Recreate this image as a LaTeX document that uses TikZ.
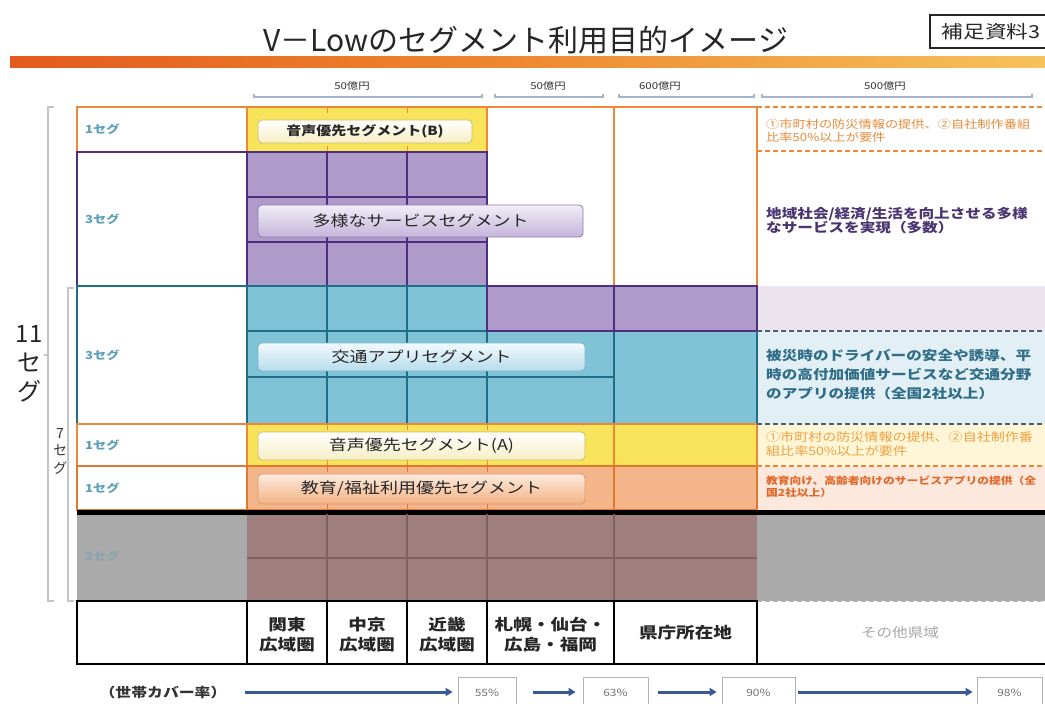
\documentclass[tikz,border=0pt]{standalone}
\usepackage{fontspec}
\setmainfont{Noto Sans CJK JP}[FakeStretch=1.2]
\newfontfamily\plainjp{Noto Sans CJK JP}
\usetikzlibrary{arrows.meta}
\definecolor{orgB}{HTML}{EE8838}
\definecolor{orgD}{HTML}{E2782C}
\definecolor{purF}{HTML}{AE9BC9}
\definecolor{purL}{HTML}{4E2E7E}
\definecolor{tealF}{HTML}{80C2D6}
\definecolor{tealL}{HTML}{1F6E86}
\definecolor{yelF}{HTML}{F8E45A}
\definecolor{peachF}{HTML}{F5B58A}
\definecolor{mauveF}{HTML}{9E7E7E}
\definecolor{mauveL}{HTML}{82605F}
\definecolor{grayF}{HTML}{AAAAAA}
\definecolor{segT}{HTML}{5C9FB8}
\definecolor{arrB}{HTML}{3A5893}
\definecolor{brk}{HTML}{A3B5CA}
\definecolor{txtO}{HTML}{E98A3A}
\definecolor{txtY}{HTML}{EFA040}
\definecolor{txtP}{HTML}{4A3570}
\definecolor{txtT}{HTML}{2F6D88}
\definecolor{txtR}{HTML}{E0682A}
\definecolor{rLav}{HTML}{EBE4EF}
\definecolor{rBlu}{HTML}{E2F0F6}
\definecolor{rYel}{HTML}{FEF6D6}
\definecolor{rPea}{HTML}{FCE8DC}
\definecolor{dashT}{HTML}{45606E}
\definecolor{leftBr}{HTML}{C4C4C4}
\definecolor{bYelD}{HTML}{CDBB70}
\definecolor{bYelB}{HTML}{F6EFC4}
\definecolor{bPurD}{HTML}{8E7AAE}
\definecolor{bPurT}{HTML}{F2EEF8}
\definecolor{bPurB}{HTML}{C4B4DA}
\definecolor{bTeaD}{HTML}{7AB6CC}
\definecolor{bTeaT}{HTML}{F3FAFD}
\definecolor{bTeaB}{HTML}{B6DCEC}
\definecolor{bPeaD}{HTML}{DA9A70}
\definecolor{bPeaT}{HTML}{FDEBDD}
\definecolor{bPeaB}{HTML}{F3B285}
\definecolor{barL}{HTML}{E45A1E}
\definecolor{barM}{HTML}{EE8A30}
\definecolor{barR}{HTML}{F6C25A}
\newcommand\fsz[2]{\fontsize{#1}{#2}\selectfont}
\tikzset{
  seglab/.style={anchor=west, text=segT, font=\fsz{11}{13}\bfseries, inner sep=0pt},
  btnbase/.style={rounded corners=4pt, line width=0.8pt, inner sep=0pt, align=center, text=black!85},
  rtxt/.style={anchor=north west, align=left, inner sep=0pt},
  toplab/.style={font=\fsz{9.5}{11}, text=black!80, inner sep=0pt},
  brkline/.style={draw=brk, line width=1.3pt},
  botlab/.style={font=\fsz{15.5}{20}\bfseries, align=center, inner sep=0pt, text=black!85},
  pbox/.style={draw=black!30, line width=0.8pt, minimum height=32pt, inner sep=0pt, font=\fsz{10}{12}, text=black!55},
  arrw/.style={draw=arrB, line width=3pt, -{Triangle[length=7pt,width=8pt]}},
  rdash/.style={line width=1.5pt, dash pattern=on 5pt off 3pt},
}
\begin{document}
\begin{tikzpicture}[x=1pt,y=-1pt]
\useasboundingbox (0,0) rectangle (1045,704);
\fill[white] (0,0) rectangle (1045,704);

% title
\node[font={\plainjp\fsz{30}{32}}, text=black!85] (title) at (526,40) {V－Lowのセグメント利用目的イメージ};
\node[draw=black!85, line width=1.5pt, minimum width=122pt, minimum height=33pt, font=\fsz{18}{20}, text=black!85] (hosoku) at (991,31.5) {補足資料3};
\shade[left color=barL, right color=barR, middle color=barM] (10,56) rectangle (1045,67);

% top amounts
\node[toplab] (m1) at (352,86) {50億円};
\node[toplab] (m2) at (548,86) {50億円};
\node[toplab] (m3) at (660,86) {600億円};
\node[toplab] (m4) at (885,86) {500億円};
\draw[brkline] (254,94) -- (254,97) -- (482,97) -- (482,94);
\draw[brkline] (495,94) -- (495,97) -- (603,97) -- (603,94);
\draw[brkline] (619,94) -- (619,97) -- (754,97) -- (754,94);
\draw[brkline] (762,94) -- (762,97) -- (1032,97) -- (1032,94);

% fills
\fill[yelF] (247,107) rectangle (487,152);
\fill[purF] (247,152) rectangle (487,286);
\fill[tealF] (247,286) rectangle (487,331);
\fill[purF] (487,286) rectangle (757,331);
\fill[tealF] (247,331) rectangle (757,424);
\fill[yelF] (247,424) rectangle (757,466);
\fill[peachF] (247,466) rectangle (757,510);
\fill[grayF] (77,513) rectangle (247,601);
\fill[mauveF] (247,513) rectangle (757,601);
\fill[rLav] (757,286) rectangle (1045,331);
\fill[rBlu] (757,331) rectangle (1045,424);
\fill[rYel] (757,424) rectangle (1045,466);
\fill[rPea] (757,466) rectangle (1045,510);
\fill[grayF] (757,513) rectangle (1045,601);

% row 1 (orange)
\draw[orgB, line width=2.5pt] (77,152) -- (77,107) -- (757,107);
\draw[orgB, line width=2.5pt] (247,107) -- (247,152);
\draw[orgB, line width=2.5pt] (487,107) -- (487,152);
\draw[orgB, line width=2.5pt] (614,107) -- (614,286);
\draw[orgB, line width=2.5pt] (757,107) -- (757,286);
\draw[orgB, line width=2.5pt] (77,152) -- (247,152);
\draw[orgB, line width=1pt] (327,108) -- (327,113) (407,108) -- (407,113) (327,146) -- (327,151) (407,146) -- (407,151);

% purple block
\draw[purL, line width=2.5pt] (77,152) rectangle (487,286);
\draw[purL, line width=2.5pt] (247,152) -- (247,286) (327,152) -- (327,286) (407,152) -- (407,286);
\draw[purL, line width=2.5pt] (247,197) -- (487,197) (247,242) -- (487,242);

% teal block
\draw[tealL, line width=2.5pt] (77,286) rectangle (757,424);
\draw[tealL, line width=2.5pt] (247,286) -- (247,424) (327,286) -- (327,424) (407,286) -- (407,424) (487,331) -- (487,424) (614,331) -- (614,424);
\draw[tealL, line width=2.5pt] (247,331) -- (757,331) (247,377) -- (614,377);
\draw[purL, line width=2.5pt] (487,286) rectangle (757,331);
\draw[purL, line width=2.5pt] (614,286) -- (614,331);

% yellow row
\draw[orgB, line width=2.5pt] (77,424) rectangle (757,466);
\draw[orgB, line width=2.5pt] (247,424) -- (247,466) (614,424) -- (614,466);
\draw[orgB, line width=1pt] (327,425) -- (327,430) (407,425) -- (407,430) (487,425) -- (487,430) (327,460) -- (327,465) (407,460) -- (407,465) (487,460) -- (487,465);

% peach row
\draw[orgD, line width=2.5pt] (77,466) rectangle (757,510);
\draw[orgD, line width=2.5pt] (247,466) -- (247,510) (614,466) -- (614,510);
\draw[orgD, line width=1pt] (327,467) -- (327,472) (407,467) -- (407,472) (487,467) -- (487,472) (327,504) -- (327,509) (407,504) -- (407,509) (487,504) -- (487,509);

% black separator
\draw[black, line width=5pt] (77,512) -- (1045,512);

% mauve grid
\draw[mauveL, line width=2pt] (327,514) -- (327,601) (407,514) -- (407,601) (487,514) -- (487,601) (614,514) -- (614,601);
\draw[mauveL, line width=2pt] (247,558) -- (757,558);

% right column dashed lines
\draw[orgB, rdash] (757,107) -- (1045,107);
\draw[orgB, rdash] (757,151) -- (1045,151);
\draw[dashT, rdash] (757,331) -- (1045,331);
\draw[dashT, rdash] (757,424) -- (1045,424);
\draw[orgB, rdash] (757,466) -- (1045,466);
\draw[black!30, rdash] (757,601) -- (1045,601);

% bottom row
\draw[black, line width=2.5pt] (77,601) rectangle (757,664);
\draw[black, line width=2.5pt] (247,601) -- (247,664) (327,601) -- (327,664) (407,601) -- (407,664) (487,601) -- (487,664) (614,601) -- (614,664);
\draw[black, line width=2.5pt] (757,664) -- (1045,664);

% left segment labels
\node[seglab] (s1) at (85,129) {1セグ};
\node[seglab] (s2) at (85,219) {3セグ};
\node[seglab] (s3) at (85,355) {3セグ};
\node[seglab] (s4) at (85,445) {1セグ};
\node[seglab] (s5) at (85,488) {1セグ};
\node[seglab, text=segT!45!grayF] (s6) at (85,556) {2セグ};

% buttons
\node[btnbase, draw=bYelD, top color=white, bottom color=bYelB, minimum width=214pt, minimum height=23pt, font=\fsz{12.5}{14}\bfseries] (btnB) at (365,131.5) {音声優先セグメント(B)};
\node[btnbase, draw=bPurD, top color=bPurT, bottom color=bPurB, minimum width=325pt, minimum height=32pt, font=\fsz{15}{17}] (btnP) at (420.5,221) {多様なサービスセグメント};
\node[btnbase, draw=bTeaD, top color=bTeaT, bottom color=bTeaB, minimum width=327pt, minimum height=28pt, font=\fsz{15}{17}] (btnT) at (421.5,357) {交通アプリセグメント};
\node[btnbase, draw=bYelD, top color=white, bottom color=bYelB, minimum width=327pt, minimum height=28pt, font=\fsz{15}{17}] (btnA) at (421.5,446) {音声優先セグメント(A)};
\node[btnbase, draw=bPeaD, top color=bPeaT, bottom color=bPeaB, minimum width=327pt, minimum height=30pt, font=\fsz{15}{17}] (btnE) at (421.5,489) {教育/福祉利用優先セグメント};

% right texts
\node[rtxt, text=txtO, font=\fsz{11}{12.5}] (r1) at (766,119) {①市町村の防災情報の提供、②自社制作番組\\比率50\%以上が要件};
\node[rtxt, text=txtP, font=\fsz{13}{14.5}\bfseries] (r2) at (766,207) {地域社会/経済/生活を向上させる多様\\なサービスを実現（多数）};
\node[rtxt, text=txtT, font=\fsz{13}{19}\bfseries] (r3) at (766,349) {被災時のドライバーの安全や誘導、平\\時の高付加価値サービスなど交通分野\\のアプリの提供（全国2社以上）};
\node[rtxt, text=txtY, font=\fsz{11.7}{14}] (r4) at (766,431) {①市町村の防災情報の提供、②自社制作番\\組比率50\%以上が要件};
\node[rtxt, text=txtR, font=\fsz{9.8}{12}\bfseries] (r5) at (766,476) {教育向け、高齢者向けのサービスアプリの提供（全\\国2社以上）};

% bottom labels
\node[botlab] (b1) at (287,635) {関東\\広域圏};
\node[botlab] (b2) at (367,635) {中京\\広域圏};
\node[botlab] (b3) at (447,635) {近畿\\広域圏};
\node[botlab] (b4) at (550.5,635) {札幌・仙台・\\広島・福岡};
\node[botlab] (b5) at (685.5,633) {県庁所在地};
\node[botlab, font=\fsz{13}{15}, text=black!35] (b6) at (900,633) {その他県域};

% left brackets
\draw[leftBr, line width=1.3pt] (54,107) -- (48,107) -- (48,601) -- (54,601);
\draw[leftBr, line width=1.3pt] (48,355) -- (44,355);
\draw[leftBr, line width=1.3pt] (74,288) -- (68,288) -- (68,601) -- (74,601);
\node[font={\plainjp\fsz{24}{29}}, align=center, inner sep=0pt, text=black!85] (seg11) at (29,364) {11\\セ\\グ};
\node[font={\plainjp\fsz{14}{17.5}}, align=center, inner sep=0pt, text=black!80] (seg7) at (60,451) {7\\セ\\グ};

% coverage row
\node[font=\fsz{13.2}{15}\bfseries, text=black!80, inner sep=0pt] (cov) at (163,692) {（世帯カバー率）};
\node[pbox, minimum width=58pt] (p55) at (487,693) {55\%};
\node[pbox, minimum width=65pt] (p63) at (615.5,693) {63\%};
\node[pbox, minimum width=73pt] (p90) at (758.5,693) {90\%};
\node[pbox, minimum width=65pt] (p98) at (1009.5,693) {98\%};
\coordinate (a1s) at (245,692);
\draw[arrw] (a1s) -- ([xshift=-5pt]p55.west |- a1s);
\draw[arrw] ([xshift=17pt]p55.east |- a1s) -- ([xshift=-7pt]p63.west |- a1s);
\draw[arrw] ([xshift=10pt]p63.east |- a1s) -- ([xshift=-5pt]p90.west |- a1s);
\draw[arrw] ([xshift=3pt]p90.east |- a1s) -- ([xshift=-4pt]p98.west |- a1s);
\end{tikzpicture}
\end{document}
